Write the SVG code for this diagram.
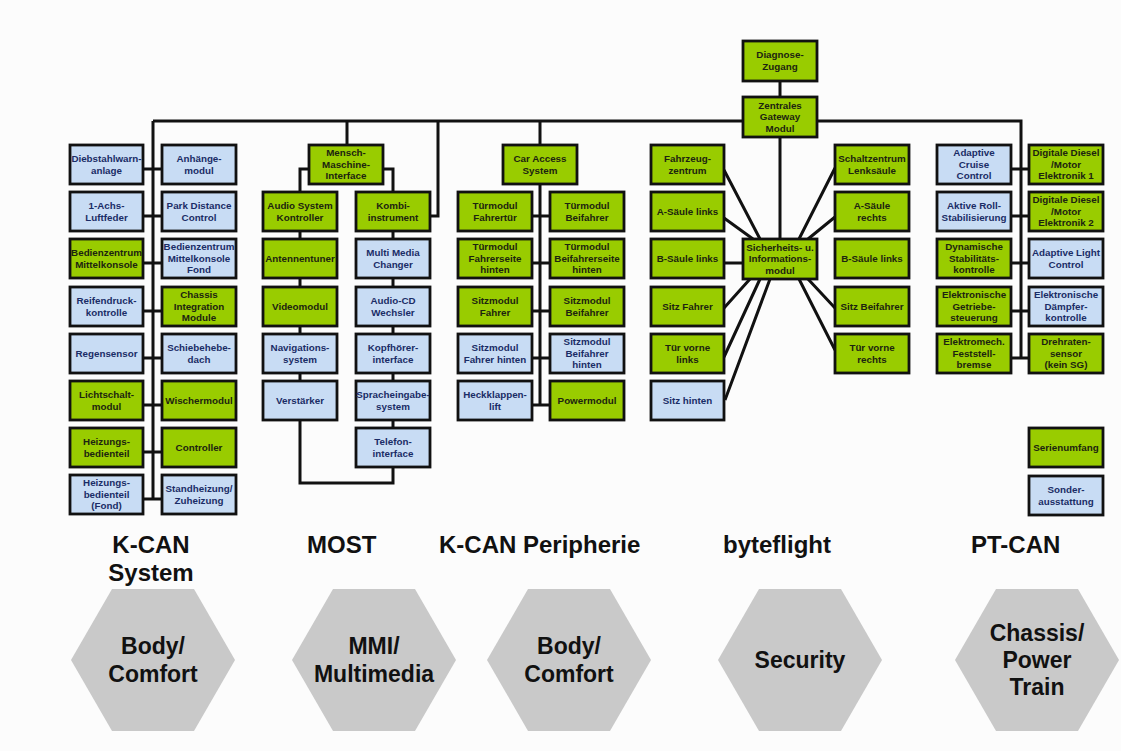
<svg xmlns="http://www.w3.org/2000/svg" width="1121" height="751" viewBox="0 0 1121 751">
  <style>
    .g{fill:#99cc00;stroke:#111;stroke-width:2.8}
    .b{fill:#c8dcf4;stroke:#111;stroke-width:2.8}
    text{font-family:"Liberation Sans",Arial,sans-serif;font-weight:bold}
    .tg{font-size:9.8px;fill:#1c2410;text-anchor:middle}
    .tb{font-size:9.8px;fill:#1a2c66;text-anchor:middle}
    .wire{fill:none;stroke:#111;stroke-width:3}
    .hex{fill:#c9c9c9}
    .bus{font-size:24px;fill:#111}
    .area{font-size:23px;fill:#111;text-anchor:middle}
  </style>
  <rect width="1121" height="751" fill="#fcfcfc"/>

  <!-- wiring -->
  <g id="connectors" class="wire">
    <!-- backbone from the gateway -->
    <path d="M153,121 H1021 V358"/>
    <path d="M780,81 V97"/>
    <!-- K-CAN System -->
    <path d="M153,121 V499"/>
    <path d="M143,169 H162 M143,216 H162 M143,263 H162 M143,311 H162 M143,358 H162 M143,405 H162 M143,452 H162 M143,499 H162"/>
    <!-- MOST ring -->
    <path d="M347,121 V145"/>
    <path d="M309,169 H300 V483 H393 V169 H383"/>
    <path d="M430,216 H438 V121"/>
    <!-- K-CAN Peripherie -->
    <path d="M540,121 V405"/>
    <path d="M531,216 H550 M531,263 H550 M531,311 H550 M531,358 H550 M531,405 H550"/>
    <!-- byteflight star -->
    <path d="M780,137 V239"/>
    <path d="M724,170 L760,239 M724,218 L753,239 M724,263 H743 M724,308 L750,279 M724,357 L760,279 M725,400 L770,279"/>
    <path d="M835,168 L799,239 M835,217 L808,239 M835,308 L808,279 M835,350 L799,279"/>
    <!-- PT-CAN -->
    <path d="M1011,169 H1029 M1011,216 H1029 M1011,263 H1029 M1011,311 H1029 M1011,358 H1029"/>
  </g>

  <!-- gateway -->
  <g id="diagnose">
    <rect class="g" x="743" y="41" width="74" height="40"/>
    <text class="tg"><tspan x="780" y="58.4">Diagnose-</tspan><tspan x="780" y="70.4">Zugang</tspan></text>
  </g>
  <g id="gateway">
    <rect class="g" x="743" y="97" width="74" height="40"/>
    <text class="tg"><tspan x="780" y="108.9">Zentrales</tspan><tspan x="780" y="120.4">Gateway</tspan><tspan x="780" y="131.9">Modul</tspan></text>
  </g>

  <!-- K-CAN System, left column -->
  <g id="diebstahl">
    <rect class="b" x="70" y="145" width="73" height="39"/>
    <text class="tb"><tspan x="106.5" y="161.9">Diebstahlwarn-</tspan><tspan x="106.5" y="173.9">anlage</tspan></text>
  </g>
  <g id="luftfeder">
    <rect class="b" x="70" y="192" width="73" height="39"/>
    <text class="tb"><tspan x="106.5" y="208.9">1-Achs-</tspan><tspan x="106.5" y="220.9">Luftfeder</tspan></text>
  </g>
  <g id="bedien-mk">
    <rect class="g" x="70" y="239" width="73" height="39"/>
    <text class="tg"><tspan x="106.5" y="255.9">Bedienzentrum</tspan><tspan x="106.5" y="267.9">Mittelkonsole</tspan></text>
  </g>
  <g id="reifendruck">
    <rect class="b" x="70" y="287" width="73" height="39"/>
    <text class="tb"><tspan x="106.5" y="303.9">Reifendruck-</tspan><tspan x="106.5" y="315.9">kontrolle</tspan></text>
  </g>
  <g id="regensensor">
    <rect class="b" x="70" y="334" width="73" height="39"/>
    <text class="tb"><tspan x="106.5" y="356.9">Regensensor</tspan></text>
  </g>
  <g id="lichtschalt">
    <rect class="g" x="70" y="381" width="73" height="39"/>
    <text class="tg"><tspan x="106.5" y="397.9">Lichtschalt-</tspan><tspan x="106.5" y="409.9">modul</tspan></text>
  </g>
  <g id="heizung">
    <rect class="g" x="70" y="428" width="73" height="39"/>
    <text class="tg"><tspan x="106.5" y="444.9">Heizungs-</tspan><tspan x="106.5" y="456.9">bedienteil</tspan></text>
  </g>
  <g id="heizung-fond">
    <rect class="b" x="70" y="475" width="73" height="39"/>
    <text class="tb"><tspan x="106.5" y="486.4">Heizungs-</tspan><tspan x="106.5" y="497.9">bedienteil</tspan><tspan x="106.5" y="509.4">(Fond)</tspan></text>
  </g>

  <!-- K-CAN System, right column -->
  <g id="anhaenge">
    <rect class="b" x="162" y="145" width="74" height="39"/>
    <text class="tb"><tspan x="199" y="161.9">Anhänge-</tspan><tspan x="199" y="173.9">modul</tspan></text>
  </g>
  <g id="pdc">
    <rect class="b" x="162" y="192" width="74" height="39"/>
    <text class="tb"><tspan x="199" y="208.9">Park Distance</tspan><tspan x="199" y="220.9">Control</tspan></text>
  </g>
  <g id="bedien-fond">
    <rect class="b" x="162" y="239" width="74" height="39"/>
    <text class="tb"><tspan x="199" y="250.4">Bedienzentrum</tspan><tspan x="199" y="261.9">Mittelkonsole</tspan><tspan x="199" y="273.4">Fond</tspan></text>
  </g>
  <g id="chassis-im">
    <rect class="g" x="162" y="287" width="74" height="39"/>
    <text class="tg"><tspan x="199" y="298.4">Chassis</tspan><tspan x="199" y="309.9">Integration</tspan><tspan x="199" y="321.4">Module</tspan></text>
  </g>
  <g id="schiebedach">
    <rect class="b" x="162" y="334" width="74" height="39"/>
    <text class="tb"><tspan x="199" y="350.9">Schiebehebe-</tspan><tspan x="199" y="362.9">dach</tspan></text>
  </g>
  <g id="wischer">
    <rect class="g" x="162" y="381" width="74" height="39"/>
    <text class="tg"><tspan x="199" y="403.9">Wischermodul</tspan></text>
  </g>
  <g id="controller">
    <rect class="g" x="162" y="428" width="74" height="39"/>
    <text class="tg"><tspan x="199" y="450.9">Controller</tspan></text>
  </g>
  <g id="standheizung">
    <rect class="b" x="162" y="475" width="74" height="39"/>
    <text class="tb"><tspan x="199" y="491.9">Standheizung/</tspan><tspan x="199" y="503.9">Zuheizung</tspan></text>
  </g>

  <!-- MOST -->
  <g id="mmi">
    <rect class="g" x="309" y="145" width="74" height="39"/>
    <text class="tg"><tspan x="346" y="156.4">Mensch-</tspan><tspan x="346" y="167.9">Maschine-</tspan><tspan x="346" y="179.4">Interface</tspan></text>
  </g>
  <g id="audio-system">
    <rect class="g" x="263" y="192" width="74" height="39"/>
    <text class="tg"><tspan x="300" y="208.9">Audio System</tspan><tspan x="300" y="220.9">Kontroller</tspan></text>
  </g>
  <g id="antennentuner">
    <rect class="g" x="263" y="239" width="74" height="39"/>
    <text class="tg"><tspan x="300" y="261.9">Antennentuner</tspan></text>
  </g>
  <g id="videomodul">
    <rect class="g" x="263" y="287" width="74" height="39"/>
    <text class="tg"><tspan x="300" y="309.9">Videomodul</tspan></text>
  </g>
  <g id="navigation">
    <rect class="b" x="263" y="334" width="74" height="39"/>
    <text class="tb"><tspan x="300" y="350.9">Navigations-</tspan><tspan x="300" y="362.9">system</tspan></text>
  </g>
  <g id="verstaerker">
    <rect class="b" x="263" y="381" width="74" height="39"/>
    <text class="tb"><tspan x="300" y="403.9">Verstärker</tspan></text>
  </g>
  <g id="kombi">
    <rect class="g" x="356" y="192" width="74" height="39"/>
    <text class="tg"><tspan x="393" y="208.9">Kombi-</tspan><tspan x="393" y="220.9">instrument</tspan></text>
  </g>
  <g id="mmc">
    <rect class="b" x="356" y="239" width="74" height="39"/>
    <text class="tb"><tspan x="393" y="255.9">Multi Media</tspan><tspan x="393" y="267.9">Changer</tspan></text>
  </g>
  <g id="cd-wechsler">
    <rect class="b" x="356" y="287" width="74" height="39"/>
    <text class="tb"><tspan x="393" y="303.9">Audio-CD</tspan><tspan x="393" y="315.9">Wechsler</tspan></text>
  </g>
  <g id="kopfhoerer">
    <rect class="b" x="356" y="334" width="74" height="39"/>
    <text class="tb"><tspan x="393" y="350.9">Kopfhörer-</tspan><tspan x="393" y="362.9">interface</tspan></text>
  </g>
  <g id="sprache">
    <rect class="b" x="356" y="381" width="74" height="39"/>
    <text class="tb"><tspan x="393" y="397.9">Spracheingabe-</tspan><tspan x="393" y="409.9">system</tspan></text>
  </g>
  <g id="telefon">
    <rect class="b" x="356" y="428" width="74" height="39"/>
    <text class="tb"><tspan x="393" y="444.9">Telefon-</tspan><tspan x="393" y="456.9">interface</tspan></text>
  </g>

  <!-- K-CAN Peripherie -->
  <g id="cas">
    <rect class="g" x="503" y="145" width="74" height="39"/>
    <text class="tg"><tspan x="540" y="161.9">Car Access</tspan><tspan x="540" y="173.9">System</tspan></text>
  </g>
  <g id="tm-fahrer">
    <rect class="g" x="458" y="192" width="74" height="39"/>
    <text class="tg"><tspan x="495" y="208.9">Türmodul</tspan><tspan x="495" y="220.9">Fahrertür</tspan></text>
  </g>
  <g id="tm-fahrer-hinten">
    <rect class="g" x="458" y="239" width="74" height="39"/>
    <text class="tg"><tspan x="495" y="250.4">Türmodul</tspan><tspan x="495" y="261.9">Fahrerseite</tspan><tspan x="495" y="273.4">hinten</tspan></text>
  </g>
  <g id="sm-fahrer">
    <rect class="g" x="458" y="287" width="74" height="39"/>
    <text class="tg"><tspan x="495" y="303.9">Sitzmodul</tspan><tspan x="495" y="315.9">Fahrer</tspan></text>
  </g>
  <g id="sm-fahrer-hinten">
    <rect class="b" x="458" y="334" width="74" height="39"/>
    <text class="tb"><tspan x="495" y="350.9">Sitzmodul</tspan><tspan x="495" y="362.9">Fahrer hinten</tspan></text>
  </g>
  <g id="heckklappe">
    <rect class="b" x="458" y="381" width="74" height="39"/>
    <text class="tb"><tspan x="495" y="397.9">Heckklappen-</tspan><tspan x="495" y="409.9">lift</tspan></text>
  </g>
  <g id="tm-beifahrer">
    <rect class="g" x="550" y="192" width="74" height="39"/>
    <text class="tg"><tspan x="587" y="208.9">Türmodul</tspan><tspan x="587" y="220.9">Beifahrer</tspan></text>
  </g>
  <g id="tm-beifahrer-hinten">
    <rect class="g" x="550" y="239" width="74" height="39"/>
    <text class="tg"><tspan x="587" y="250.4">Türmodul</tspan><tspan x="587" y="261.9">Beifahrerseite</tspan><tspan x="587" y="273.4">hinten</tspan></text>
  </g>
  <g id="sm-beifahrer">
    <rect class="g" x="550" y="287" width="74" height="39"/>
    <text class="tg"><tspan x="587" y="303.9">Sitzmodul</tspan><tspan x="587" y="315.9">Beifahrer</tspan></text>
  </g>
  <g id="sm-beifahrer-hinten">
    <rect class="b" x="550" y="334" width="74" height="39"/>
    <text class="tb"><tspan x="587" y="345.4">Sitzmodul</tspan><tspan x="587" y="356.9">Beifahrer</tspan><tspan x="587" y="368.4">hinten</tspan></text>
  </g>
  <g id="powermodul">
    <rect class="g" x="550" y="381" width="74" height="39"/>
    <text class="tg"><tspan x="587" y="403.9">Powermodul</tspan></text>
  </g>

  <!-- byteflight -->
  <g id="sim">
    <rect class="g" x="743" y="239" width="74" height="40"/>
    <text class="tg"><tspan x="780" y="250.9">Sicherheits- u.</tspan><tspan x="780" y="262.4">Informations-</tspan><tspan x="780" y="273.9">modul</tspan></text>
  </g>
  <g id="fahrzeugzentrum">
    <rect class="g" x="651" y="145" width="73" height="39"/>
    <text class="tg"><tspan x="687.5" y="161.9">Fahrzeug-</tspan><tspan x="687.5" y="173.9">zentrum</tspan></text>
  </g>
  <g id="a-saeule-links">
    <rect class="g" x="651" y="192" width="73" height="39"/>
    <text class="tg"><tspan x="687.5" y="214.9">A-Säule links</tspan></text>
  </g>
  <g id="b-saeule-links">
    <rect class="g" x="651" y="239" width="73" height="39"/>
    <text class="tg"><tspan x="687.5" y="261.9">B-Säule links</tspan></text>
  </g>
  <g id="sitz-fahrer">
    <rect class="g" x="651" y="287" width="73" height="39"/>
    <text class="tg"><tspan x="687.5" y="309.9">Sitz Fahrer</tspan></text>
  </g>
  <g id="tuer-links">
    <rect class="g" x="651" y="334" width="73" height="39"/>
    <text class="tg"><tspan x="687.5" y="350.9">Tür vorne</tspan><tspan x="687.5" y="362.9">links</tspan></text>
  </g>
  <g id="sitz-hinten">
    <rect class="b" x="651" y="381" width="73" height="39"/>
    <text class="tb"><tspan x="687.5" y="403.9">Sitz hinten</tspan></text>
  </g>
  <g id="schaltzentrum">
    <rect class="g" x="835" y="145" width="74" height="39"/>
    <text class="tg"><tspan x="872" y="161.9">Schaltzentrum</tspan><tspan x="872" y="173.9">Lenksäule</tspan></text>
  </g>
  <g id="a-saeule-rechts">
    <rect class="g" x="835" y="192" width="74" height="39"/>
    <text class="tg"><tspan x="872" y="208.9">A-Säule</tspan><tspan x="872" y="220.9">rechts</tspan></text>
  </g>
  <g id="b-saeule-rechts">
    <rect class="g" x="835" y="239" width="74" height="39"/>
    <text class="tg"><tspan x="872" y="261.9">B-Säule links</tspan></text>
  </g>
  <g id="sitz-beifahrer">
    <rect class="g" x="835" y="287" width="74" height="39"/>
    <text class="tg"><tspan x="872" y="309.9">Sitz Beifahrer</tspan></text>
  </g>
  <g id="tuer-rechts">
    <rect class="g" x="835" y="334" width="74" height="39"/>
    <text class="tg"><tspan x="872" y="350.9">Tür vorne</tspan><tspan x="872" y="362.9">rechts</tspan></text>
  </g>

  <!-- PT-CAN -->
  <g id="acc">
    <rect class="b" x="937" y="145" width="74" height="39"/>
    <text class="tb"><tspan x="974" y="156.4">Adaptive</tspan><tspan x="974" y="167.9">Cruise</tspan><tspan x="974" y="179.4">Control</tspan></text>
  </g>
  <g id="ars">
    <rect class="b" x="937" y="192" width="74" height="39"/>
    <text class="tb"><tspan x="974" y="208.9">Aktive Roll-</tspan><tspan x="974" y="220.9">Stabilisierung</tspan></text>
  </g>
  <g id="dsc">
    <rect class="g" x="937" y="239" width="74" height="39"/>
    <text class="tg"><tspan x="974" y="250.4">Dynamische</tspan><tspan x="974" y="261.9">Stabilitäts-</tspan><tspan x="974" y="273.4">kontrolle</tspan></text>
  </g>
  <g id="egs">
    <rect class="g" x="937" y="287" width="74" height="39"/>
    <text class="tg"><tspan x="974" y="298.4">Elektronische</tspan><tspan x="974" y="309.9">Getriebe-</tspan><tspan x="974" y="321.4">steuerung</tspan></text>
  </g>
  <g id="emf">
    <rect class="g" x="937" y="334" width="74" height="39"/>
    <text class="tg"><tspan x="974" y="345.4">Elektromech.</tspan><tspan x="974" y="356.9">Feststell-</tspan><tspan x="974" y="368.4">bremse</tspan></text>
  </g>
  <g id="dde1">
    <rect class="g" x="1029" y="145" width="74" height="39"/>
    <text class="tg"><tspan x="1066" y="156.4">Digitale Diesel</tspan><tspan x="1066" y="167.9">/Motor</tspan><tspan x="1066" y="179.4">Elektronik 1</tspan></text>
  </g>
  <g id="dde2">
    <rect class="g" x="1029" y="192" width="74" height="39"/>
    <text class="tg"><tspan x="1066" y="203.4">Digitale Diesel</tspan><tspan x="1066" y="214.9">/Motor</tspan><tspan x="1066" y="226.4">Elektronik 2</tspan></text>
  </g>
  <g id="alc">
    <rect class="b" x="1029" y="239" width="74" height="39"/>
    <text class="tb"><tspan x="1066" y="255.9">Adaptive Light</tspan><tspan x="1066" y="267.9">Control</tspan></text>
  </g>
  <g id="edc">
    <rect class="b" x="1029" y="287" width="74" height="39"/>
    <text class="tb"><tspan x="1066" y="298.4">Elektronische</tspan><tspan x="1066" y="309.9">Dämpfer-</tspan><tspan x="1066" y="321.4">kontrolle</tspan></text>
  </g>
  <g id="drehraten">
    <rect class="g" x="1029" y="334" width="74" height="39"/>
    <text class="tg"><tspan x="1066" y="345.4">Drehraten-</tspan><tspan x="1066" y="356.9">sensor</tspan><tspan x="1066" y="368.4">(kein SG)</tspan></text>
  </g>

  <!-- key -->
  <g id="key-serie">
    <rect class="g" x="1029" y="428" width="74" height="39"/>
    <text class="tg"><tspan x="1066" y="450.9">Serienumfang</tspan></text>
  </g>
  <g id="key-sonder">
    <rect class="b" x="1029" y="476" width="74" height="39"/>
    <text class="tb"><tspan x="1066" y="492.9">Sonder-</tspan><tspan x="1066" y="504.9">ausstattung</tspan></text>
  </g>

  <!-- bus names -->
  <g id="bus-labels">
    <text class="bus" x="151" y="553" text-anchor="middle">K-CAN</text>
    <text class="bus" x="151" y="581" text-anchor="middle">System</text>
    <text class="bus" x="307" y="553">MOST</text>
    <text class="bus" x="439" y="553">K-CAN Peripherie</text>
    <text class="bus" x="723" y="553">byteflight</text>
    <text class="bus" x="971" y="553">PT-CAN</text>
  </g>

  <!-- functional domains -->
  <g id="domain-body1">
    <polygon class="hex" points="71,660 112,589 194,589 235,660 194,731 112,731"/>
    <text class="area"><tspan x="153" y="654">Body/</tspan><tspan x="153" y="682">Comfort</tspan></text>
  </g>
  <g id="domain-mmi">
    <polygon class="hex" points="292,660 333,589 415,589 456,660 415,731 333,731"/>
    <text class="area"><tspan x="374" y="654">MMI/</tspan><tspan x="374" y="682">Multimedia</tspan></text>
  </g>
  <g id="domain-body2">
    <polygon class="hex" points="487,660 528,589 610,589 651,660 610,731 528,731"/>
    <text class="area"><tspan x="569" y="654">Body/</tspan><tspan x="569" y="682">Comfort</tspan></text>
  </g>
  <g id="domain-security">
    <polygon class="hex" points="718,660 759,589 841,589 882,660 841,731 759,731"/>
    <text class="area"><tspan x="800" y="668">Security</tspan></text>
  </g>
  <g id="domain-chassis">
    <polygon class="hex" points="955,660 996,589 1078,589 1119,660 1078,731 996,731"/>
    <text class="area"><tspan x="1037" y="641">Chassis/</tspan><tspan x="1037" y="668">Power</tspan><tspan x="1037" y="695">Train</tspan></text>
  </g>
</svg>
